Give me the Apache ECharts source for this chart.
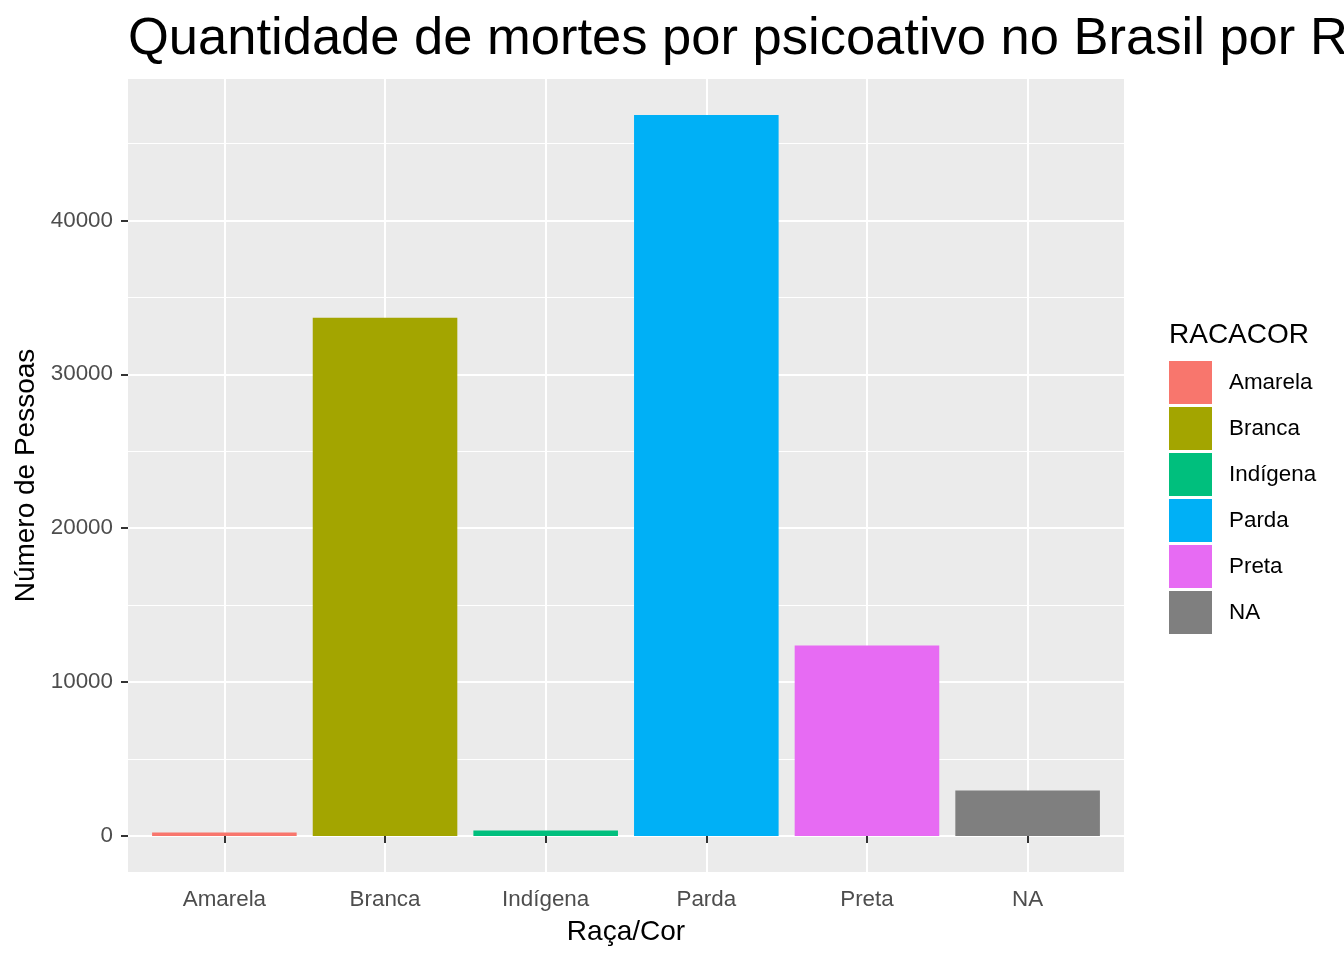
<!DOCTYPE html>
<html><head><meta charset="utf-8">
<script src="https://cdn.jsdelivr.net/npm/echarts@6/dist/echarts.min.js"></script>
<style>html,body{margin:0;padding:0;background:#fff}#c{width:1344px;height:960px}</style>
</head><body><div id="c"></div>
<script>
const categories = ['Amarela', 'Branca', 'Indígena', 'Parda', 'Preta', 'NA'];
const deaths = [230, 33670, 360, 46850, 12370, 2960];
const colors = ['#F8766D', '#A3A500', '#00BF7D', '#00B0F6', '#E76BF3', '#7F7F7F'];
const yTicks = [0, 10000, 20000, 30000, 40000];
const yMinorTicks = [5000, 15000, 25000, 35000, 45000];

const FONT = '"Liberation Sans", Arial, sans-serif';
const positions = categories.map((c, i) => i + 1);
const xMin = 0.4, xMax = categories.length + 0.6;
const dataMax = Math.max(...deaths);
const yMin = -0.05 * dataMax, yMax = 1.05 * dataMax;
const gridLeft = 128, gridRight = 220;
const plotWidth = 1344 - gridLeft - gridRight;
const barW = 0.9 * plotWidth / (xMax - xMin);

const chart = echarts.init(document.getElementById('c'), null, {renderer: 'canvas'});
const option = {
  animation: false,
  backgroundColor: '#ffffff',
  textStyle: {fontFamily: FONT},
  title: [
    {text: 'Quantidade de mortes por psicoativo no Brasil por Raça/Cor', left: 128, top: 13, padding: 0,
     textStyle: {fontSize: 52.5, fontWeight: 'normal', color: '#000', fontFamily: FONT}},
    {text: 'RACACOR', left: 1169, top: 321, padding: 0,
     textStyle: {fontSize: 28, fontWeight: 'normal', color: '#000', fontFamily: FONT}}
  ],
  legend: {
    orient: 'vertical', left: 1169, top: 361, padding: 0,
    itemWidth: 43, itemHeight: 43, itemGap: 3, icon: 'rect',
    selectedMode: false, data: categories,
    textStyle: {fontSize: 22.4, color: '#000', fontFamily: FONT, padding: [7, 0, 0, 12]}
  },
  grid: {left: gridLeft, right: gridRight, top: 79, bottom: 88, show: true,
         backgroundColor: '#EBEBEB', borderWidth: 0, containLabel: false, outerBoundsMode: 'none'},
  xAxis: {
    type: 'value', min: xMin, max: xMax,
    axisLine: {show: false},
    axisTick: {show: true, customValues: positions, length: 7, lineStyle: {color: '#333333', width: 2}},
    axisLabel: {customValues: positions, formatter: v => categories[Math.round(v) - 1],
                color: '#4D4D4D', fontSize: 22.4, margin: 17, fontFamily: FONT},
    splitLine: {show: true, lineStyle: {color: '#ffffff', width: 2}},
    name: 'Raça/Cor', nameLocation: 'middle', nameGap: 46,
    nameTextStyle: {fontSize: 28, color: '#000', fontFamily: FONT}
  },
  yAxis: [
    {
      type: 'value', min: yMin, max: yMax, position: 'left',
      axisLine: {show: false},
      axisTick: {show: true, customValues: yTicks, length: 7, lineStyle: {color: '#333333', width: 2}},
      axisLabel: {customValues: yTicks, formatter: v => String(Math.round(v)),
                  color: '#4D4D4D', fontSize: 22.4, margin: 15, fontFamily: FONT},
      splitLine: {show: true, lineStyle: {color: '#ffffff', width: 2}},
      name: 'Número de Pessoas', nameLocation: 'middle', nameGap: 79, nameRotate: 90,
      nameTextStyle: {fontSize: 28, color: '#000', fontFamily: FONT}
    },
    {
      type: 'value', min: yMin, max: yMax, position: 'left',
      axisLine: {show: false},
      axisTick: {show: false, customValues: yMinorTicks},
      axisLabel: {show: false, customValues: yMinorTicks},
      splitLine: {show: true, lineStyle: {color: '#ffffff', width: 1}}
    }
  ],
  series: categories.map((c, i) => ({
    name: c, type: 'bar', xAxisIndex: 0, yAxisIndex: 0,
    data: [[positions[i], deaths[i]]],
    barWidth: barW, barGap: '-100%',
    itemStyle: {color: colors[i]}
  }))
};
chart.setOption(option);
</script></body></html>
